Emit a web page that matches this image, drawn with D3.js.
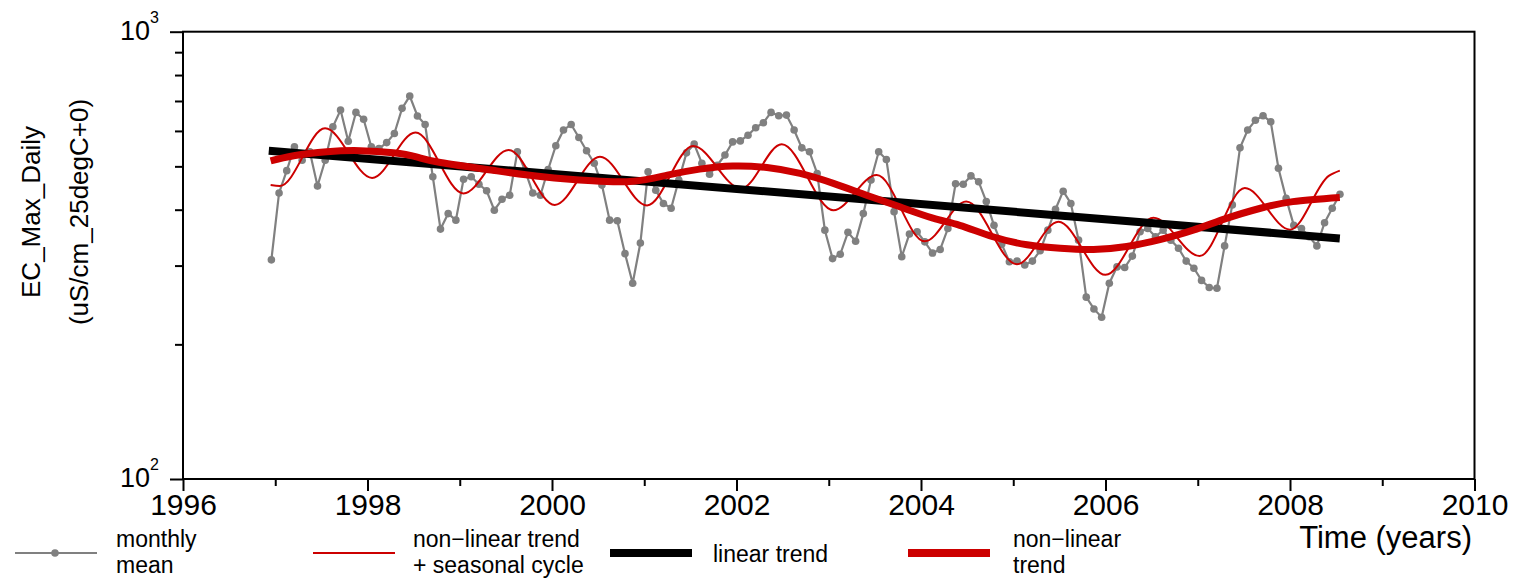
<!DOCTYPE html>
<html>
<head>
<meta charset="utf-8">
<script src="https://cdn.jsdelivr.net/npm/d3@7"></script>
<style>
  body { margin: 0; background: #fff; }
  svg { display: block; font-family: "Liberation Sans", Arial, sans-serif; }
</style>
</head>
<body>
<div id="chart"></div>
<script>
// Size of the picture
var width = 1523;
var height = 583;

// Monthly means, starting January 1997 (uS/cm)
var firstMonth = 1996.958;
var monthlyMean = [
    309, 436, 489, 553, 516, 539, 452, 516, 613, 668, 569, 660,
    637, 553, 548, 565, 592, 674, 718, 648, 620, 474, 362, 392,
    379, 468, 474, 456, 441, 399, 422, 431, 539, 490, 436, 431,
    492, 556, 603, 620, 580, 542, 508, 454, 379, 378, 319, 274,
    337, 486, 442, 413, 403, 466, 536, 561, 508, 480, 503, 530,
    567, 570, 587, 610, 626, 660, 649, 651, 603, 550, 539, 482,
    360, 311, 318, 356, 340, 392, 466, 539, 518, 396, 314, 353,
    357, 339, 320, 326, 363, 457, 456, 476, 462, 417, 369, 335,
    306, 307, 301, 307, 324, 360, 401, 440, 413, 342, 255, 240,
    230, 274, 298, 297, 315, 357, 363, 348, 360, 342, 328, 307,
    296, 278, 268, 267, 332, 410, 550, 603, 634, 649, 629, 495,
    424, 369, 363, 348, 332, 374, 403, 433
];

// Non-linear trend + seasonal cycle (knots at peaks and troughs)
var seasonalYears = [1996.95, 1997.05, 1997.54, 1998.05, 1998.52, 1999.04, 1999.53, 2000.03, 2000.52,
    2001.03, 2001.53, 2002.05, 2002.49, 2003.05, 2003.52, 2004.04, 2004.49, 2005.04, 2005.49,
    2006.0, 2006.52, 2007.02, 2007.51, 2008.0, 2008.42, 2008.54];
var seasonalValues = [454, 452, 608, 471, 595, 435, 544, 410, 525,
    409, 555, 446, 560, 399, 478, 340, 417, 302, 376,
    286, 384, 315, 447, 361, 476, 489];

// Linear trend end points
var linearYears = [1996.93, 2008.54];
var linearValues = [542, 345];

// Non-linear trend
var trendYears = [1996.95, 1997.2, 1997.56, 1997.92, 1998.28, 1998.53, 1998.79, 1999.36, 1999.9,
    2000.44, 2000.88, 2001.25, 2001.6, 2001.96, 2002.33, 2002.69, 2003.05, 2003.41, 2003.77,
    2004.13, 2004.42, 2004.78, 2005.15, 2005.51, 2005.87, 2006.23, 2006.59, 2006.95, 2007.32,
    2007.68, 2008.03, 2008.54];
var trendValues = [514, 528, 539, 542, 536, 525, 510, 490, 474,
    464, 463, 478, 493, 501, 497, 482, 458, 431, 406,
    383, 369, 348, 334, 328, 326, 331, 343, 360, 383,
    403, 417, 426];

// Axis ticks
var majorYears = [1996, 1998, 2000, 2002, 2004, 2006, 2008, 2010];
var minorYears = [1997, 1999, 2001, 2003, 2005, 2007, 2009];
var majorY = [100, 1000];
var majorYLabels = ["2", "3"];
var minorY = [200, 300, 400, 500, 600, 700, 800, 900];

var grey = "#808080";
var red = "#cc0000";

var svg = d3.select("#chart").append("svg")
    .attr("width", width)
    .attr("height", height);

var x = d3.scaleLinear().domain([1996, 2010]).range([183, 1474.5]);
var y = d3.scaleLog().domain([100, 1000]).range([479, 31.7]);

// Frame
svg.append("rect")
    .attr("x", x(1996)).attr("y", y(1000))
    .attr("width", x(2010) - x(1996)).attr("height", y(100) - y(1000))
    .attr("fill", "none").attr("stroke", "#000").attr("stroke-width", 2);

// Bottom axis, major ticks with labels
var xAxis = svg.append("g")
    .attr("transform", "translate(0," + y(100) + ")")
    .call(d3.axisBottom(x).tickValues(majorYears).tickSize(12).tickPadding(3).tickFormat(d3.format("d")));
xAxis.select(".domain").remove();
xAxis.selectAll("line").attr("stroke-width", 2);
xAxis.selectAll("text").attr("font-size", 30).attr("font-family", "Liberation Sans, Arial, sans-serif").attr("fill", "#000");

// Bottom axis, minor ticks
var xMinor = svg.append("g")
    .attr("transform", "translate(0," + y(100) + ")")
    .call(d3.axisBottom(x).tickValues(minorYears).tickSize(7).tickFormat(""));
xMinor.select(".domain").remove();
xMinor.selectAll("line").attr("stroke-width", 2);

// Left axis, major ticks
var yAxis = svg.append("g")
    .attr("transform", "translate(" + x(1996) + ",0)")
    .call(d3.axisLeft(y).tickValues(majorY).tickSize(13).tickFormat(""));
yAxis.select(".domain").remove();
yAxis.selectAll("line").attr("stroke-width", 2);

// Left axis, minor ticks
var yMinor = svg.append("g")
    .attr("transform", "translate(" + x(1996) + ",0)")
    .call(d3.axisLeft(y).tickValues(minorY).tickSize(8).tickFormat(""));
yMinor.select(".domain").remove();
yMinor.selectAll("line").attr("stroke-width", 2);

// Power-of-ten labels
var powLabels = svg.append("g").selectAll("text")
    .data(majorY)
    .enter()
    .append("text")
    .attr("x", 120)
    .attr("y", function(d) { return y(d) + 8; })
    .attr("font-size", 27);
powLabels.append("tspan").text("10");
powLabels.append("tspan")
    .attr("dy", -17)
    .attr("font-size", 16)
    .text(function(d, i) { return majorYLabels[i]; });

// Y axis title (two lines)
var yTitle = svg.append("g")
    .attr("transform", "translate(0,212) rotate(-90)");
yTitle.append("text")
    .attr("x", 0).attr("y", 40)
    .attr("text-anchor", "middle").attr("font-size", 26)
    .text("EC_Max_Daily");
yTitle.append("text")
    .attr("x", 0).attr("y", 88)
    .attr("text-anchor", "middle").attr("font-size", 26)
    .text("(uS/cm_25degC+0)");

// X axis title
svg.append("text")
    .attr("x", 1472).attr("y", 548)
    .attr("text-anchor", "end").attr("font-size", 31)
    .text("Time (years)");

// Series
var monthly = monthlyMean.map(function(v, i) { return { t: firstMonth + i / 12, v: v }; });
var seasonal = seasonalYears.map(function(t, i) { return { t: t, v: seasonalValues[i] }; });
var linear = linearYears.map(function(t, i) { return { t: t, v: linearValues[i] }; });
var trend = trendYears.map(function(t, i) { return { t: t, v: trendValues[i] }; });

function lineFor(curve) {
    return d3.line()
        .x(function(d) { return x(d.t); })
        .y(function(d) { return y(d.v); })
        .curve(curve);
}

svg.append("path")
    .datum(monthly)
    .attr("d", lineFor(d3.curveLinear))
    .attr("fill", "none").attr("stroke", grey).attr("stroke-width", 2.2);

svg.append("g").selectAll("circle")
    .data(monthly)
    .enter()
    .append("circle")
    .attr("cx", function(d) { return x(d.t); })
    .attr("cy", function(d) { return y(d.v); })
    .attr("r", 3.8)
    .attr("fill", grey);

svg.append("path")
    .datum(seasonal)
    .attr("d", lineFor(d3.curveMonotoneX))
    .attr("fill", "none").attr("stroke", red).attr("stroke-width", 2);

svg.append("path")
    .datum(linear)
    .attr("d", lineFor(d3.curveLinear))
    .attr("fill", "none").attr("stroke", "#000").attr("stroke-width", 8);

svg.append("path")
    .datum(trend)
    .attr("d", lineFor(d3.curveNatural))
    .attr("fill", "none").attr("stroke", red).attr("stroke-width", 7);

// Legend
var legendData = [
    { x: 15, color: grey, width: 2, dot: true, lines: ["monthly", "mean"], tx: 116 },
    { x: 313, color: red, width: 2, dot: false, lines: ["non\u2212linear trend", "+ seasonal cycle"], tx: 413 },
    { x: 610, color: "#000", width: 8, dot: false, lines: ["linear trend"], tx: 713 },
    { x: 908, color: red, width: 8, dot: false, lines: ["non\u2212linear", "trend"], tx: 1013 }
];

var legend = svg.append("g").selectAll("g")
    .data(legendData)
    .enter()
    .append("g");

legend.append("line")
    .attr("x1", function(d) { return d.x; })
    .attr("x2", function(d) { return d.x + 82; })
    .attr("y1", 553).attr("y2", 553)
    .attr("stroke", function(d) { return d.color; })
    .attr("stroke-width", function(d) { return d.width; });

legend.filter(function(d) { return d.dot; })
    .append("circle")
    .attr("cx", function(d) { return d.x + 40; })
    .attr("cy", 553)
    .attr("r", 3.8)
    .attr("fill", grey);

legend.each(function(d) {
    var g = d3.select(this);
    d.lines.forEach(function(line, i) {
        g.append("text")
            .attr("x", d.tx)
            .attr("y", d.lines.length === 1 ? 562 : 547 + i * 26)
            .attr("font-size", 23)
            .text(line);
    });
});
</script>
</body>
</html>
